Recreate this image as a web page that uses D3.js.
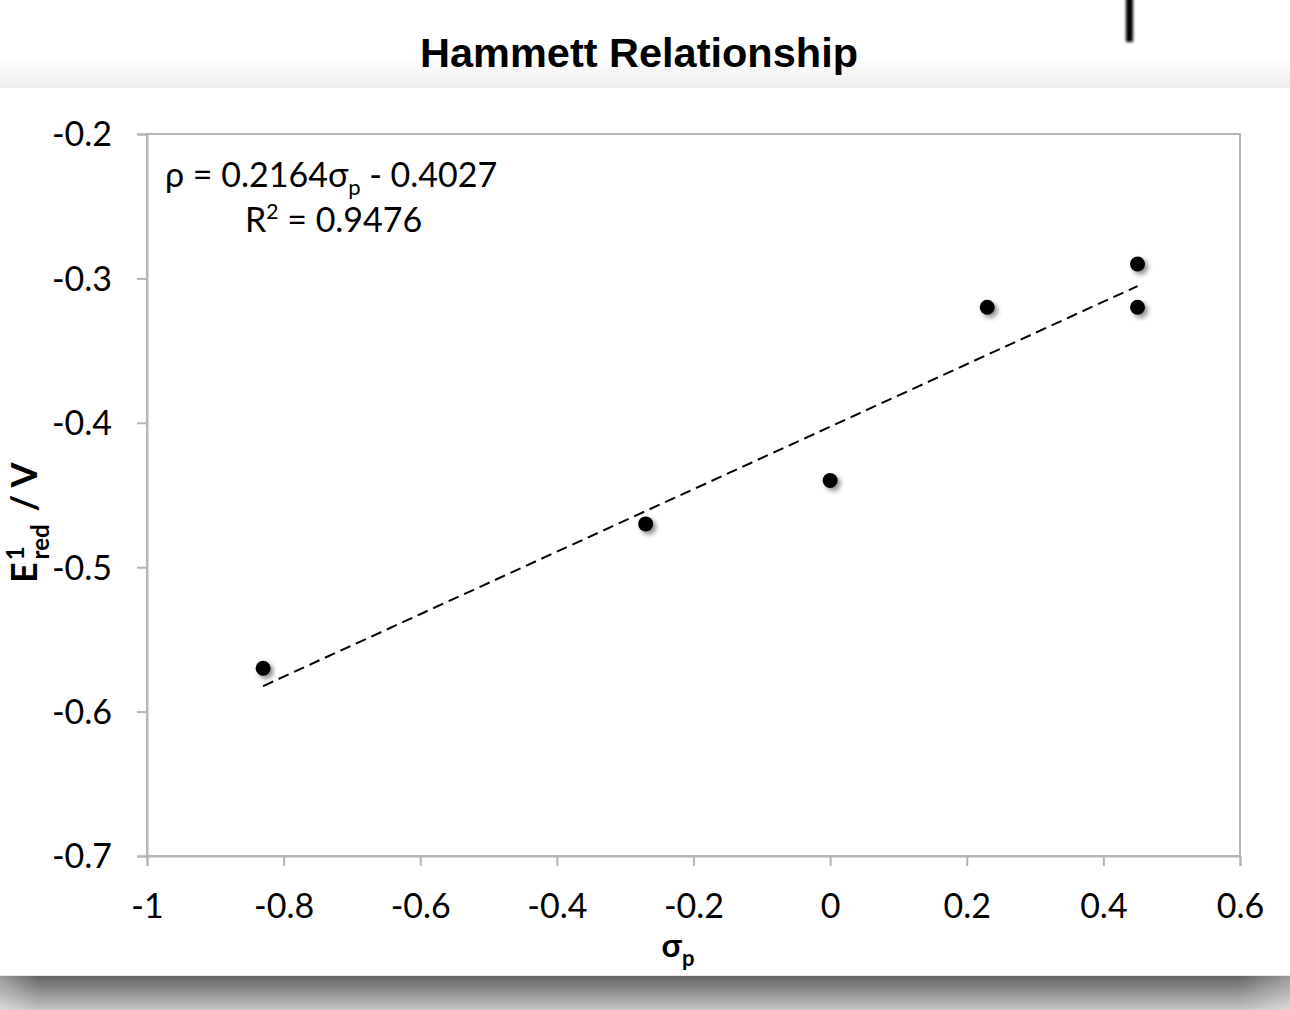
<!DOCTYPE html>
<html>
<head>
<meta charset="utf-8">
<script src="https://cdn.jsdelivr.net/npm/d3@7"></script>
<style>
  html, body { margin: 0; padding: 0; background: #fff; }
  svg { display: block; }
</style>
</head>
<body>
<svg id="chart" width="1290" height="1010"></svg>
<script>
// Substituent constants (sigma_p) and first reduction potentials (V)
const sigmaP = [-0.83, -0.27, 0, 0.23, 0.45, 0.45];
const eRed   = [-0.57, -0.47, -0.44, -0.32, -0.29, -0.32];

// Linear fit reported on the chart
const fitSlope = 0.2164;
const fitIntercept = -0.4027;
const fitR2 = 0.9476;

const xTicks = [-1, -0.8, -0.6, -0.4, -0.2, 0, 0.2, 0.4, 0.6];
const yTicks = [-0.2, -0.3, -0.4, -0.5, -0.6, -0.7];

const W = 1290, H = 1010;
const plot = { left: 147, right: 1240, top: 134, bottom: 856 };
const bodyFont = "Lato, 'Open Sans', sans-serif";
const fmt = d => (+d.toFixed(1)).toString();

const svg = d3.select("#chart");
const defs = svg.append("defs");

// Soft page shading
const topGrad = defs.append("linearGradient").attr("id", "topBand")
  .attr("x1", 0).attr("y1", 0).attr("x2", 0).attr("y2", 1);
topGrad.append("stop").attr("offset", "0%").attr("stop-color", "#ffffff");
topGrad.append("stop").attr("offset", "100%").attr("stop-color", "#ededed");

const botGrad = defs.append("linearGradient").attr("id", "botBand")
  .attr("x1", 0).attr("y1", 0).attr("x2", 0).attr("y2", 1);
botGrad.append("stop").attr("offset", "0%").attr("stop-color", "#646464");
botGrad.append("stop").attr("offset", "100%").attr("stop-color", "#c4c4c4");

const edgeGrad = defs.append("linearGradient").attr("id", "edgeFade")
  .attr("x1", 0).attr("y1", 0).attr("x2", 1).attr("y2", 0);
edgeGrad.append("stop").attr("offset", "0%").attr("stop-color", "#fff").attr("stop-opacity", 0.35);
edgeGrad.append("stop").attr("offset", "3%").attr("stop-color", "#fff").attr("stop-opacity", 0);
edgeGrad.append("stop").attr("offset", "96%").attr("stop-color", "#fff").attr("stop-opacity", 0);
edgeGrad.append("stop").attr("offset", "100%").attr("stop-color", "#fff").attr("stop-opacity", 0.35);

const barBlur = defs.append("filter").attr("id", "barBlur")
  .attr("x", "-50%").attr("y", "-20%").attr("width", "200%").attr("height", "140%");
barBlur.append("feGaussianBlur").attr("stdDeviation", 1.6);

const dotShadow = defs.append("filter").attr("id", "dotShadow")
  .attr("x", "-100%").attr("y", "-100%").attr("width", "300%").attr("height", "300%");
dotShadow.append("feDropShadow").attr("dx", 3).attr("dy", 3)
  .attr("stdDeviation", 2.5).attr("flood-color", "#000").attr("flood-opacity", 0.45);

svg.append("rect").attr("x", 0).attr("y", 56).attr("width", W).attr("height", 32)
  .attr("fill", "url(#topBand)");
svg.append("rect").attr("x", 0).attr("y", 976).attr("width", W).attr("height", H - 976)
  .attr("fill", "url(#botBand)");
svg.append("rect").attr("x", 0).attr("y", 976).attr("width", W).attr("height", H - 976)
  .attr("fill", "url(#edgeFade)");
svg.append("line").attr("x1", 0).attr("x2", W).attr("y1", 975.5).attr("y2", 975.5)
  .attr("stroke", "#e6e6e6").attr("stroke-width", 1);

// Vertical bar at the top edge
svg.append("rect").attr("x", 1126).attr("y", -10).attr("width", 7).attr("height", 52)
  .attr("fill", "#000").attr("filter", "url(#barBlur)");

// Title
svg.append("text").attr("x", 639).attr("y", 67)
  .attr("text-anchor", "middle")
  .attr("textLength", 438).attr("lengthAdjust", "spacingAndGlyphs")
  .style("font-family", "'Liberation Sans', Arial, sans-serif")
  .style("font-weight", "bold").style("font-size", "41px")
  .text("Hammett Relationship");

// Scales
const x = d3.scaleLinear().domain([-1, 0.6]).range([plot.left, plot.right]);
const y = d3.scaleLinear().domain([-0.7, -0.2]).range([plot.bottom, plot.top]);

// Plot frame
svg.append("rect")
  .attr("x", plot.left).attr("y", plot.top)
  .attr("width", plot.right - plot.left).attr("height", plot.bottom - plot.top)
  .attr("fill", "none").attr("stroke", "#b5b5b5").attr("stroke-width", 2);

// Axes
const xAxis = svg.append("g").attr("transform", `translate(0,${plot.bottom})`)
  .call(d3.axisBottom(x).tickValues(xTicks).tickSize(10).tickPadding(28).tickFormat(fmt));
const yAxis = svg.append("g").attr("transform", `translate(${plot.left},0)`)
  .call(d3.axisLeft(y).tickValues(yTicks).tickSize(10).tickPadding(25).tickFormat(fmt));

[xAxis, yAxis].forEach(g => {
  g.select(".domain").attr("stroke", "#b5b5b5").attr("stroke-width", 2);
  g.selectAll(".tick line").attr("stroke", "#b5b5b5").attr("stroke-width", 2);
  g.selectAll(".tick text").attr("fill", "#000")
    .style("font-family", bodyFont).style("font-size", "34px");
});
xAxis.selectAll(".tick text").attr("dy", "0.71em");
yAxis.selectAll(".tick text").attr("dy", "0.35em");

// Trend line across the data range
const xs = d3.extent(sigmaP);
svg.append("line")
  .attr("x1", x(xs[0])).attr("y1", y(fitSlope * xs[0] + fitIntercept))
  .attr("x2", x(xs[1])).attr("y2", y(fitSlope * xs[1] + fitIntercept))
  .attr("stroke", "#000").attr("stroke-width", 2)
  .attr("stroke-dasharray", "11,6");

// Data points
svg.append("g").selectAll("circle")
  .data(sigmaP.map((s, i) => [s, eRed[i]]))
  .join("circle")
  .attr("cx", d => x(d[0])).attr("cy", d => y(d[1]))
  .attr("r", 7.5).attr("fill", "#000")
  .attr("filter", "url(#dotShadow)");

// Fit equation
const eq = svg.append("text").attr("x", 165).attr("y", 187)
  .style("font-family", bodyFont).style("font-size", "34px").attr("fill", "#000");
eq.append("tspan").text("ρ = " + fitSlope.toFixed(4) + "σ");
eq.append("tspan").attr("dy", 8).style("font-size", "22px").text("p");
eq.append("tspan").attr("dy", -8).text(" - " + Math.abs(fitIntercept).toFixed(4));

const r2 = svg.append("text").attr("x", 245).attr("y", 232)
  .style("font-family", bodyFont).style("font-size", "34px").attr("fill", "#000");
r2.append("tspan").text("R");
r2.append("tspan").attr("dy", -13).style("font-size", "21px").text("2");
r2.append("tspan").attr("dy", 13).text(" = " + fitR2.toFixed(4));

// X axis title
const xt = svg.append("text").attr("x", 678).attr("y", 957).attr("text-anchor", "middle")
  .style("font-family", bodyFont).style("font-weight", "bold").style("font-size", "33px");
xt.append("tspan").text("σ");
xt.append("tspan").attr("dy", 9).style("font-size", "22px").text("p");

// Y axis title
const yt = svg.append("text")
  .attr("transform", "translate(37,583) rotate(-90)")
  .style("font-family", bodyFont).style("font-weight", "bold").style("font-size", "36px");
yt.append("tspan").text("E");
yt.append("tspan").attr("dx", 2).attr("dy", -13).style("font-size", "24px").text("1");
yt.append("tspan").attr("dx", -13).attr("dy", 25).style("font-size", "24px").text("red");
yt.append("tspan").attr("dx", 4).attr("dy", -12).text(" / V");
</script>
</body>
</html>
